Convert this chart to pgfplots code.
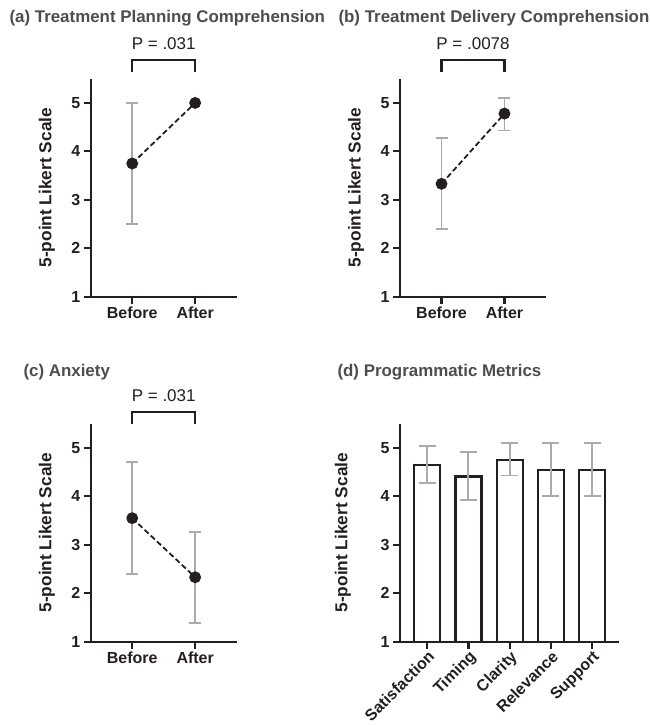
\documentclass[border=0pt]{standalone}
\usepackage{pgfplots}
\pgfplotsset{compat=1.18}
\usepackage{fontspec}
\setmainfont{Liberation Sans}
\definecolor{ttl}{HTML}{4D4D4D}
\definecolor{ebar}{HTML}{ABABAB}
\definecolor{ink}{HTML}{231F20}
\pgfplotsset{
  likert/.style={
    scale only axis, width=146pt, height=218pt,
    anchor=south west,
    axis lines=left, axis line style={-, line width=2.3pt, ink},
    ymin=1, ymax=5.5, ytick={1,2,3,4,5},
    xmin=-0.66, xmax=1.66, xtick={0,1}, xticklabels={Before,After},
    tick align=outside, major tick length=7pt,
    every tick/.style={line width=2.2pt, ink},
    tick label style={font=\bfseries\fontsize{16}{18}\selectfont, text=ink},
    /pgf/number format/assume math mode=true,
    ylabel={5-point Likert Scale},
    ylabel style={at={(axis description cs:-0.30,0.5)}, anchor=center, font=\bfseries\fontsize{17.3}{19}\selectfont, text=ink},
    clip=false,
  },
  ebars/.style={draw=none, mark=none, forget plot,
    error bars/.cd, y dir=both, y explicit,
    error bar style={line width=1.9pt, ebar},
    error mark options={rotate=90, mark size=6pt, line width=1.9pt, ebar}},
  pts/.style={dashed, dash pattern=on 5.5pt off 3pt, line width=1.8pt, ink,
    mark=*, mark size=5pt, mark options={solid, fill=ink, draw=ink}},
}
\newcommand{\bracket}[4]{% y-top, y-legbottom, y-text, label
  \draw[line width=2.3pt, ink] (axis cs:0,#2) -- (axis cs:0,#1) -- (axis cs:1,#1) -- (axis cs:1,#2);
  \node[font=\fontsize{17}{19}\selectfont, text=ink] at (axis cs:0.5,#3) {#4};
}
\begin{document}
\begin{tikzpicture}
\path[use as bounding box] (0,0) rectangle (650pt,-725pt);
% titles
\node[anchor=west, font=\bfseries\fontsize{16.9}{19}\selectfont, text=ttl] at (6pt,-18pt) {(a) Treatment Planning Comprehension};
\node[anchor=west, font=\bfseries\fontsize{16.9}{19}\selectfont, text=ttl] at (335pt,-18pt) {(b) Treatment Delivery Comprehension};
\node[anchor=west, font=\bfseries\fontsize{16.9}{19}\selectfont, text=ttl] at (20pt,-372pt) {(c) Anxiety};
\node[anchor=west, font=\bfseries\fontsize{16.9}{19}\selectfont, text=ttl] at (334pt,-372pt) {(d) Programmatic Metrics};

% (a)
\begin{axis}[likert, at={(90.7pt,-296.7pt)}]
\addplot[ebars] coordinates {(0,3.75) += (0,1.25) -= (0,1.25)};
\addplot[pts] coordinates {(0,3.75) (1,5.0)};
\bracket{5.88}{5.64}{6.23}{P = .031}
\end{axis}

% (b)
\begin{axis}[likert, at={(400pt,-296.7pt)}]
\addplot[ebars] coordinates {(0,3.33) += (0,0.95) -= (0,0.94) (1,4.78) += (0,0.33) -= (0,0.35)};
\addplot[pts] coordinates {(0,3.33) (1,4.78)};
\bracket{5.88}{5.64}{6.23}{P = .0078}
\end{axis}

% (c)
\begin{axis}[likert, at={(90.7pt,-641.7pt)}]
\addplot[ebars] coordinates {(0,3.55) += (0,1.16) -= (0,1.15) (1,2.33) += (0,0.94) -= (0,0.94)};
\addplot[pts] coordinates {(0,3.55) (1,2.33)};
\bracket{5.74}{5.50}{6.08}{P = .031}
\end{axis}

% (d)
\begin{axis}[likert, at={(400pt,-641.7pt)}, width=219.3pt, clip=true,
  xmin=-0.66, xmax=4.66, xtick={0,1,2,3,4},
  xticklabels={Satisfaction,Timing,Clarity,Relevance,Support},
  xticklabel style={rotate=45, anchor=north east, inner sep=0.5pt},
  ylabel style={at={(axis description cs:-0.26,0.5)}},
  ybar, bar width=26pt]
\addplot[fill=white, draw=ink, line width=2.2pt,
  error bars/.cd, y dir=both, y explicit,
  error bar style={line width=1.9pt, ebar},
  error mark options={rotate=90, mark size=8.5pt, line width=1.9pt, ebar}]
  coordinates {(0,4.65) += (0,0.39) -= (0,0.38)
               (1,4.41) += (0,0.51) -= (0,0.48)
               (2,4.75) += (0,0.36) -= (0,0.32)
               (3,4.54) += (0,0.57) -= (0,0.54)
               (4,4.54) += (0,0.57) -= (0,0.54)};
\end{axis}
\end{tikzpicture}
\end{document}
